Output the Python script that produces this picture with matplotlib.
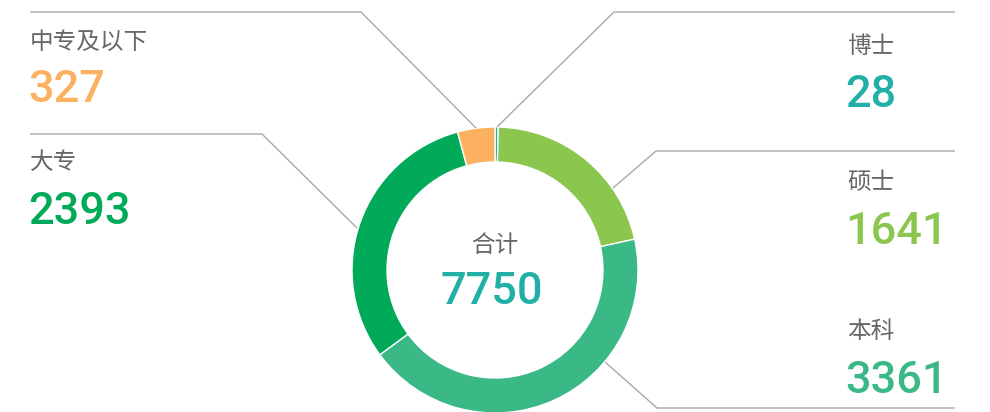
import matplotlib
matplotlib.use("Agg")
import matplotlib.pyplot as plt
import numpy as np

plt.rcParams['font.family'] = ['Noto Sans CJK SC', 'DejaVu Sans']

# ---------------- data ----------------
categories = ['博士', '硕士', '本科', '大专', '中专及以下']
values = [28, 1641, 3361, 2393, 327]
colors = ['#22b0a6', '#8bc64f', '#3ab986', '#00aa58', '#fbb15f']
total_label = '合计'

# ---------------- layout (pixel coords, image y downward) ----------------
W, H = 990, 412
CX, CY = 495, 270
R_OUT, RING = 143, 35

# text anchor (x, label y centre, number y centre)
text_pos = {
    '博士': (847, 46, 95),
    '硕士': (847, 183, 232),
    '本科': (847, 332, 381),
    '大专': (30, 163, 212),
    '中专及以下': (30, 42, 90),
}
# leader polylines: start on ring -> elbow -> end of horizontal
leaders = {
    '博士': [(497, 127), (614, 12), (955, 12)],
    '硕士': [(613, 188), (656, 151), (955, 151)],
    '本科': [(605, 362), (657, 408), (955, 408)],
    '大专': [(357, 228), (262, 134), (30, 134)],
    '中专及以下': [(476, 128), (361, 12), (30, 12)],
}

fig = plt.figure(figsize=(W / 100, H / 100), dpi=100)
ax = fig.add_axes([0, 0, 1, 1])

def Y(y):
    return H - y

ax.pie(values, colors=colors, startangle=90, counterclock=False,
       center=(CX, Y(CY)), radius=R_OUT,
       wedgeprops=dict(width=RING, edgecolor='white', linewidth=1))

ax.set_xlim(0, W)
ax.set_ylim(0, H)
ax.set_aspect('equal')
ax.axis('off')

num_font = ['Roboto', 'DejaVu Sans']
label_color = '#666666'

for cat, val, col in zip(categories, values, colors):
    x, ly, ny = text_pos[cat]
    ax.text(x, Y(ly), cat, fontsize=17, color=label_color, ha='left', va='center')
    ax.text(x - 2, Y(ny), str(val), fontsize=32.5, color=col, ha='left', va='center',
            family=num_font, fontweight='medium')
    pts = leaders[cat]
    ax.plot([p[0] for p in pts], [Y(p[1]) for p in pts], color='#a9a9a9', lw=1,
            solid_capstyle='butt', clip_on=False)

ax.text(CX, Y(245), total_label, fontsize=17, color=label_color, ha='center', va='center')
ax.text(CX - 3, Y(292), str(sum(values)), fontsize=32.5, color=colors[0], ha='center',
        va='center', family=num_font, fontweight='medium')

fig.savefig('out.png', dpi=100)
